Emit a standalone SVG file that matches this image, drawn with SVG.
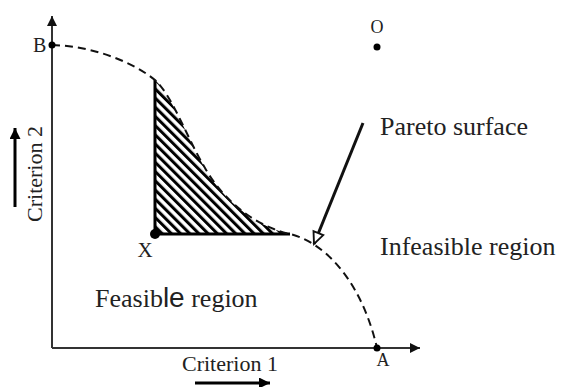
<svg xmlns="http://www.w3.org/2000/svg" width="563" height="387" viewBox="0 0 563 387">
<style>
.t{font-family:"Liberation Serif","Times New Roman",serif;fill:#222}
.ax{stroke:#333;stroke-width:2;fill:none}
.front{stroke:#111;stroke-width:2;fill:none;stroke-dasharray:8 5}
.edge{stroke:#000;stroke-width:3;fill:none}
.dot{fill:#000}
</style>
<defs>
<marker id="fa" viewBox="0 0 10 10" refX="10" refY="5" markerWidth="15" markerHeight="10" markerUnits="userSpaceOnUse" orient="auto">
<path d="M0,0 L10,5 L0,10 Z" fill="#111"/>
</marker>
<marker id="fb" viewBox="0 0 10 10" refX="10" refY="5" markerWidth="16" markerHeight="11" markerUnits="userSpaceOnUse" orient="auto">
<path d="M0,0 L10,5 L0,10 Z" fill="#000"/>
</marker>
<marker id="oa" viewBox="0 0 12 12" refX="11" refY="6" markerWidth="18" markerHeight="14" markerUnits="userSpaceOnUse" orient="auto">
<path d="M1,1.5 L11,6 L1,10.5 Z" fill="#fff" stroke="#111" stroke-width="1.6"/>
</marker>
<pattern id="hatch" width="6.5" height="6.5" patternUnits="userSpaceOnUse" patternTransform="rotate(-45)">
<rect x="0" y="0" width="3" height="6.5" fill="#000"/>
</pattern>
</defs>

<g id="axes">
<line class="ax" x1="52" y1="348" x2="52" y2="16" marker-end="url(#fa)"/>
<line class="ax" x1="52" y1="348" x2="420" y2="348" marker-end="url(#fa)"/>
</g>

<g id="feasible-hatch">
<path d="M155,80 C172,95 188,140 205,168 C220,195 250,225 290,234 L155,234 Z" fill="url(#hatch)"/>
<path class="edge" d="M155,80 L155,234 L290,234"/>
</g>

<g id="connectors">
<path class="front" d="M52,45 C90,46 130,60 155,80 C172,95 188,140 205,168 C220,195 250,225 290,234 C320,241 360,275 377,348"/>
<line x1="363" y1="123" x2="314" y2="244" stroke="#111" stroke-width="3" marker-end="url(#oa)"/>
<line x1="195" y1="383" x2="270" y2="383" stroke="#000" stroke-width="3" marker-end="url(#fb)"/>
<line x1="15" y1="207" x2="15" y2="128" stroke="#000" stroke-width="3" marker-end="url(#fb)"/>
</g>

<g id="B"><circle class="dot" cx="52" cy="45" r="3.5"/><text class="t" x="33" y="52" font-size="20">B</text></g>
<g id="O"><circle class="dot" cx="377" cy="47" r="3.5"/><text class="t" x="377" y="33" font-size="18" text-anchor="middle">O</text></g>
<g id="A"><circle class="dot" cx="377" cy="348" r="3.5"/><text class="t" x="383" y="366" font-size="18" text-anchor="middle">A</text></g>
<g id="X"><circle class="dot" cx="155" cy="234" r="5"/><text class="t" x="145" y="257" font-size="21" text-anchor="middle">X</text></g>

<g id="labels">
<text class="t" x="380" y="135" font-size="26">Pareto surface</text>
<text class="t" x="380" y="255" font-size="26">Infeasible region</text>
<text class="t" x="95" y="307" font-size="26">Feasib<tspan font-family="Liberation Sans, Arial, sans-serif" font-size="28">le</tspan> region</text>
<text class="t" x="182" y="371" font-size="22">Criterion 1</text>
<text class="t" x="42" y="174" font-size="22" text-anchor="middle" transform="rotate(-90 42 174)">Criterion 2</text>
</g>
</svg>
